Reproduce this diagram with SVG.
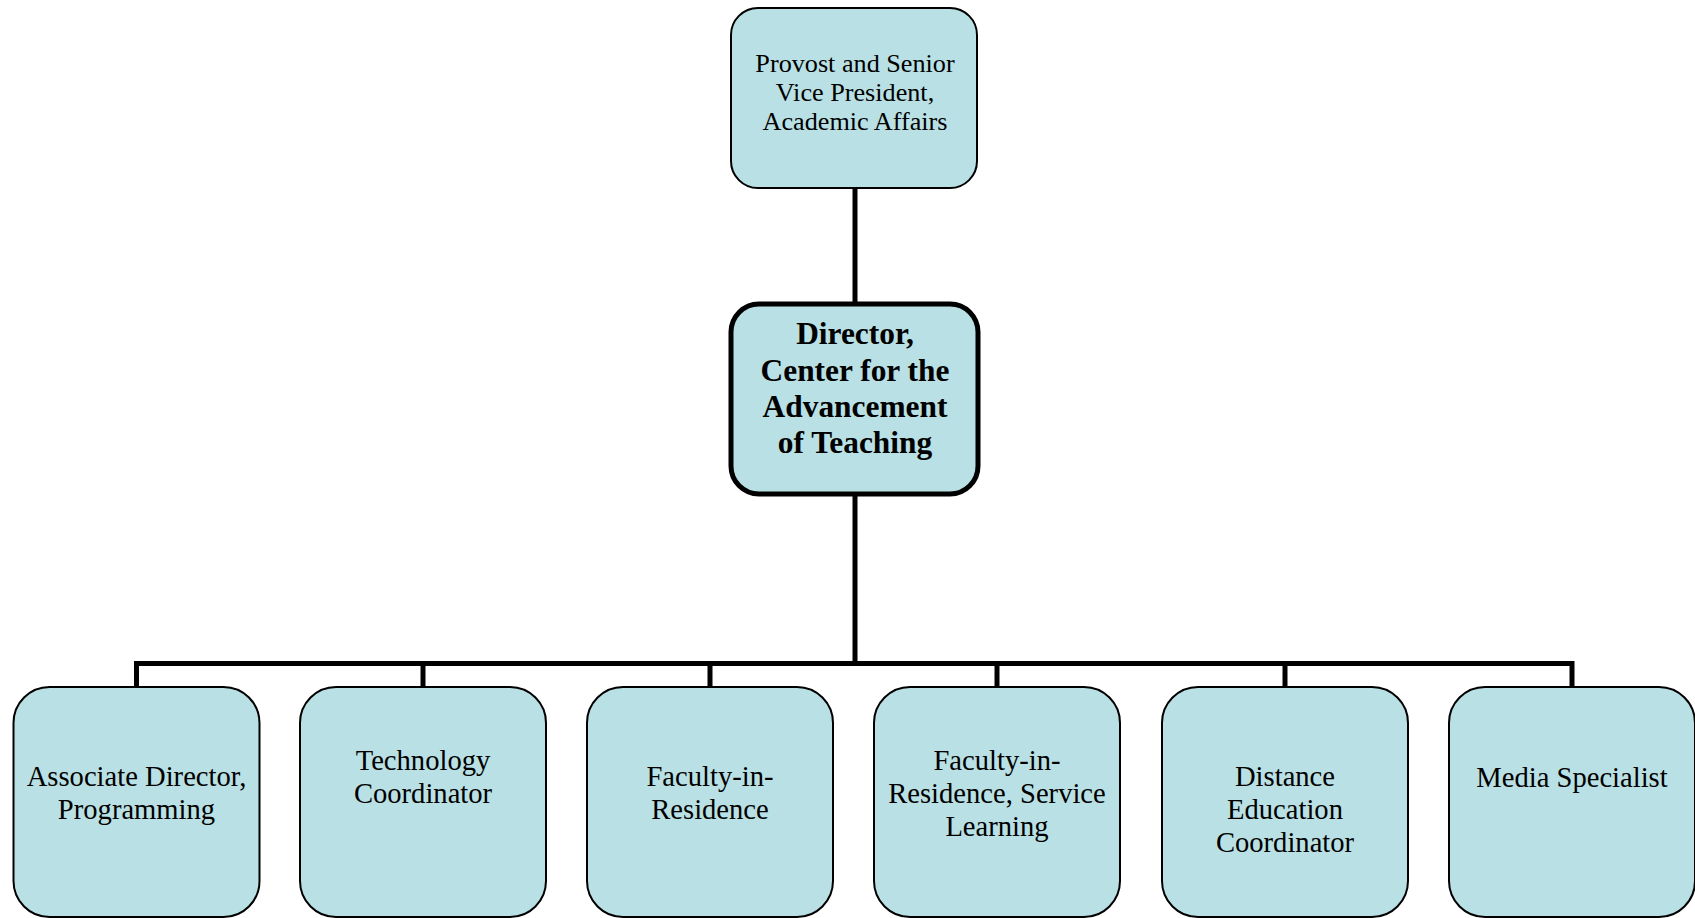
<svg xmlns="http://www.w3.org/2000/svg" width="1695" height="918" viewBox="0 0 1695 918">
<style>
.box{fill:#B9E0E4;stroke:#000;stroke-width:2}
.main{fill:#B9E0E4;stroke:#000;stroke-width:5}
.t{font-family:"Liberation Serif","Times New Roman",serif;fill:#000;text-anchor:middle}
.top{font-size:26.2px}
.bold{font-size:31.4px;font-weight:bold}
.small{font-size:28.6px}
.conn{stroke:#000;stroke-width:5;fill:none}
</style>
<rect width="1695" height="918" fill="#fff"/>
<g id="connectors">
<line class="conn" x1="855" y1="187" x2="855" y2="304"/>
<line class="conn" x1="855" y1="494" x2="855" y2="664"/>
<polyline class="conn" points="136.5,688 136.5,663.5 1572,663.5 1572,688"/>
<line class="conn" x1="423" y1="663" x2="423" y2="688"/>
<line class="conn" x1="710" y1="663" x2="710" y2="688"/>
<line class="conn" x1="997" y1="663" x2="997" y2="688"/>
<line class="conn" x1="1285" y1="663" x2="1285" y2="688"/>
</g>
<g id="provost">
<rect class="box" x="731" y="8" width="246" height="180" rx="27"/>
<text class="t top" x="855" y="72">Provost and Senior</text>
<text class="t top" x="855" y="101">Vice President,</text>
<text class="t top" x="855" y="130">Academic Affairs</text>
</g>
<g id="director">
<rect class="main" x="731" y="304" width="247" height="190" rx="28"/>
<text class="t bold" x="855" y="344">Director,</text>
<text class="t bold" x="855" y="381">Center for the</text>
<text class="t bold" x="855" y="417">Advancement</text>
<text class="t bold" x="855" y="453">of Teaching</text>
</g>
<g id="associate">
<rect class="box" x="13.5" y="687" width="246" height="230" rx="36"/>
<text class="t small" x="136.5" y="786">Associate Director,</text>
<text class="t small" x="136.5" y="819">Programming</text>
</g>
<g id="technology">
<rect class="box" x="300" y="687" width="246" height="230" rx="36"/>
<text class="t small" x="423" y="770">Technology</text>
<text class="t small" x="423" y="803">Coordinator</text>
</g>
<g id="faculty">
<rect class="box" x="587" y="687" width="246" height="230" rx="36"/>
<text class="t small" x="710" y="786">Faculty-in-</text>
<text class="t small" x="710" y="819">Residence</text>
</g>
<g id="faculty-service">
<rect class="box" x="874" y="687" width="246" height="230" rx="36"/>
<text class="t small" x="997" y="770">Faculty-in-</text>
<text class="t small" x="997" y="803">Residence, Service</text>
<text class="t small" x="997" y="836">Learning</text>
</g>
<g id="distance">
<rect class="box" x="1162" y="687" width="246" height="230" rx="36"/>
<text class="t small" x="1285" y="786">Distance</text>
<text class="t small" x="1285" y="819">Education</text>
<text class="t small" x="1285" y="852">Coordinator</text>
</g>
<g id="media">
<rect class="box" x="1449" y="687" width="246" height="230" rx="36"/>
<text class="t small" x="1572" y="787">Media Specialist</text>
</g>
</svg>
